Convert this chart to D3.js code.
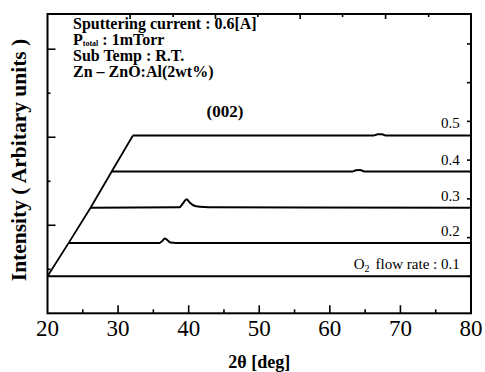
<!DOCTYPE html>
<html lang="en">
<head>
<meta charset="UTF-8">
<title>XRD O2 flow rate</title>
<style>
    body { margin: 0; background: #fff; }
    svg text { font-family: "Liberation Serif", "Times New Roman", serif; fill: #000; }
</style>
</head>
<body>
<div id="chart"></div>
<script src="https://d3js.org/d3.v7.min.js"></script>
<script>
// O2 flow rate of each scan, bottom to top
const flowRates = ['0.1', '0.2', '0.3', '0.4', '0.5'];
// each scan is shifted right and up (waterfall), start angle and baseline
const startAngles = [20, 23, 26.1, 29.1, 32.1];
const baselines = [0.42, 0.80, 1.20, 1.61, 2.02];
// [2theta, intensity]
const scans = [
    [[20, 0.42], [80, 0.42]],
    [[23, 0.80], [35.9, 0.80], [36.3, 0.825], [36.6, 0.85], [37.0, 0.83], [37.4, 0.805], [38.2, 0.80], [80, 0.80]],
    [[26.1, 1.20], [38.7, 1.205], [39.2, 1.25], [39.7, 1.295], [40.2, 1.255], [40.7, 1.225], [41.6, 1.21], [42.8, 1.205], [80, 1.20]],
    [[29.1, 1.61], [63.2, 1.61], [63.7, 1.625], [64.3, 1.627], [64.9, 1.612], [80, 1.61]],
    [[32.1, 2.02], [66.2, 2.02], [66.8, 2.035], [67.4, 2.033], [67.9, 2.02], [80, 2.02]]
];
const xTicks = [20, 25, 30, 35, 40, 45, 50, 55, 60, 65, 70, 75, 80];
const xLabels = [20, 30, 40, 50, 60, 70, 80];
const yTicks = [0.5, 1, 1.5, 2, 2.5, 3];
const rightTicks = [0.42, 0.86, 1.30, 1.74, 2.18, 2.62, 3.06];
const topTicks = [31.7, 37.8, 43.8, 49.8, 55.8, 61.8, 67.9, 74.0];
const notes = ['Sputtering current : 0.6[A]', 'P|total| : 1mTorr', 'Sub Temp : R.T.', 'Zn \u2013 ZnO:Al(2wt%)'];

const W = 485, H = 372;
const m = { left: 47.5, right: 14, top: 14, bottom: 58.7 };

const svg = d3.select('#chart').append('svg')
    .attr('width', W)
    .attr('height', H);

const x = d3.scaleLinear().domain([20, 80]).range([m.left, W - m.right]);
const y = d3.scaleLinear().domain([0, 3.4]).range([H - m.bottom, m.top]);

// ticks, all pointing inward
function ticks(vals, isMajor, fn) {
    vals.forEach((v, i) => fn(v, isMajor(v, i)));
}
const tk = svg.append('g').attr('stroke', '#000').attr('stroke-width', 1.6);
ticks(xTicks, v => v % 10 === 0, (v, maj) => {
    if (v === 20 || v === 80) return;
    tk.append('line').attr('x1', x(v)).attr('x2', x(v))
        .attr('y1', y(0)).attr('y2', y(0) - (maj ? 8 : 4));
});
ticks(topTicks, (v, i) => i % 2 === 0, (v, maj) => {
    tk.append('line').attr('x1', x(v)).attr('x2', x(v))
        .attr('y1', y(3.4)).attr('y2', y(3.4) + (maj ? 5 : 3));
});
ticks(yTicks, v => v % 1 === 0, (v, maj) => {
    tk.append('line').attr('x1', x(20)).attr('x2', x(20) + (maj ? 8 : 3))
        .attr('y1', y(v)).attr('y2', y(v));
});
ticks(rightTicks, () => false, v => {
    tk.append('line').attr('x1', x(80)).attr('x2', x(80) - 4)
        .attr('y1', y(v)).attr('y2', y(v));
});

// frame
svg.append('rect')
    .attr('x', x(20)).attr('y', y(3.4))
    .attr('width', x(80) - x(20)).attr('height', y(0) - y(3.4))
    .attr('fill', 'none').attr('stroke', '#000').attr('stroke-width', 2);

// scans
const line = d3.line().x(d => x(d[0])).y(d => y(d[1])).curve(d3.curveMonotoneX);
svg.append('g').selectAll('path')
    .data(scans)
    .join('path')
    .attr('d', line)
    .attr('fill', 'none')
    .attr('stroke', '#000')
    .attr('stroke-width', 2);

// slanted offset axis through the scan starts
svg.append('path')
    .attr('d', d3.line().x(d => x(d[0])).y(d => y(d[1]))(startAngles.map((a, i) => [a, baselines[i]])))
    .attr('fill', 'none')
    .attr('stroke', '#000')
    .attr('stroke-width', 1.8);

// flow rate labels
svg.append('g').selectAll('text')
    .data(flowRates)
    .join('text')
    .attr('x', x(78.4))
    .attr('y', (d, i) => y(baselines[i]) - 7)
    .attr('text-anchor', 'end')
    .attr('font-size', 15)
    .each(function(d, i) {
        const t = d3.select(this);
        if (i === 0) {
            t.append('tspan').text('O');
            t.append('tspan').attr('font-size', 10).attr('dy', 3).text('2');
            t.append('tspan').attr('dy', -3).attr('dx', 6).text('flow rate : ' + d);
        } else {
            t.text(d);
        }
    });

// process notes
svg.append('g').selectAll('text')
    .data(notes)
    .join('text')
    .attr('x', 73)
    .attr('y', (d, i) => 29 + i * 16)
    .attr('font-size', 16)
    .attr('font-weight', 'bold')
    .each(function(d) {
        const t = d3.select(this);
        const parts = d.split('|');
        if (parts.length === 1) { t.text(d); return; }
        t.append('tspan').text(parts[0]);
        t.append('tspan').attr('font-size', 8).attr('dy', 1).text(parts[1]);
        t.append('tspan').attr('dy', -1).text(' ' + parts[2]);
    });

svg.append('text')
    .attr('x', 225).attr('y', 117)
    .attr('text-anchor', 'middle')
    .attr('font-size', 17)
    .attr('font-weight', 'bold')
    .text('(002)');

// axis labels
svg.append('g').selectAll('text')
    .data(xLabels)
    .join('text')
    .attr('x', d => x(d))
    .attr('y', 336)
    .attr('text-anchor', 'middle')
    .attr('font-size', 23)
    .text(d => d);

svg.append('text')
    .attr('x', x(50)).attr('y', 368)
    .attr('text-anchor', 'middle')
    .attr('font-size', 18)
    .attr('font-weight', 'bold')
    .text('2\u03b8 [deg]');

svg.append('text')
    .attr('transform', 'translate(26,160) rotate(-90)')
    .attr('text-anchor', 'middle')
    .attr('font-size', 21.5)
    .attr('font-weight', 'bold')
    .text('Intensity ( Arbitary units )');
</script>
</body>
</html>
